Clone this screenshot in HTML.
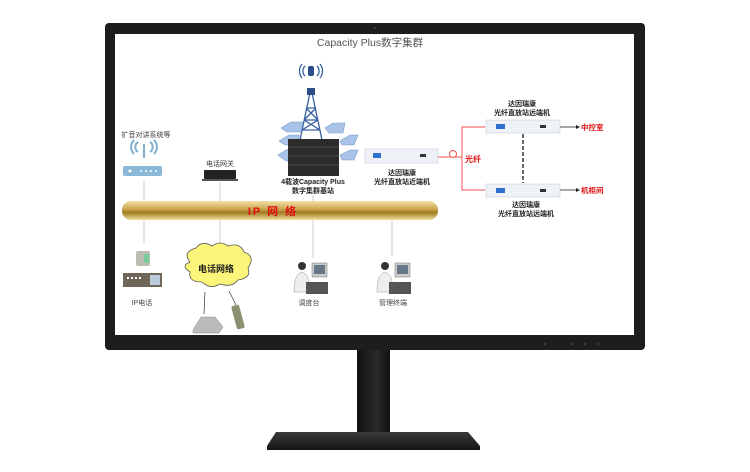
<!DOCTYPE html>
<html><head><meta charset="utf-8"><style>
html,body{margin:0;padding:0;background:#fff;width:750px;height:472px;overflow:hidden}
svg{display:block}
text{font-family:"Liberation Sans","Noto Sans CJK SC",sans-serif}
</style></head><body>
<svg width="750" height="472" viewBox="0 0 750 472" xmlns="http://www.w3.org/2000/svg">
<defs>
<linearGradient id="gold" x1="0" y1="0" x2="0" y2="1">
<stop offset="0" stop-color="#f3e2a8"/><stop offset="0.45" stop-color="#c9a24a"/><stop offset="0.6" stop-color="#a07a20"/><stop offset="1" stop-color="#f2dfa0"/></linearGradient>
<linearGradient id="neck" x1="0" y1="0" x2="1" y2="0"><stop offset="0" stop-color="#111"/><stop offset="0.6" stop-color="#2a2a2a"/><stop offset="1" stop-color="#111"/></linearGradient>
<linearGradient id="base" x1="0" y1="0" x2="0" y2="1"><stop offset="0" stop-color="#3a3a3a"/><stop offset="1" stop-color="#151515"/></linearGradient>
</defs>
<!-- stand -->
<rect x="357" y="349" width="33" height="86" fill="url(#neck)"/>
<path d="M276 432 L468 432 L480 446 L480 450 L267 450 L267 446 Z" fill="url(#base)"/>
<!-- monitor -->
<rect x="105" y="23" width="540" height="327" rx="4" fill="#1d1d1d"/>
<rect x="115" y="34" width="519" height="301" fill="#fff"/>
<circle cx="375" cy="28" r="1" fill="#444"/>
<g fill="#666"><circle cx="545" cy="344" r="0.8"/><circle cx="572" cy="344" r="0.8"/><circle cx="585" cy="344" r="0.8"/><circle cx="598" cy="344" r="0.8"/></g>
<text x="370" y="46" font-size="10.5" fill="#555" text-anchor="middle">Capacity Plus数字集群</text>

<!-- grey connector lines -->
<g stroke="#ccc" stroke-width="1">
<line x1="144" y1="180" x2="144" y2="243"/>
<line x1="220" y1="182" x2="220" y2="247"/>
<line x1="313" y1="195" x2="313" y2="258"/>
<line x1="392" y1="220" x2="392" y2="256"/>
</g>
<!-- IP bar -->
<rect x="122" y="201" width="316" height="19" rx="9" fill="url(#gold)"/>
<text x="273" y="215" font-size="11" font-weight="bold" fill="#e01010" text-anchor="middle" letter-spacing="2">IP 网 络</text>

<!-- router -->
<text x="146" y="137" font-size="7" fill="#444" text-anchor="middle">扩音对讲系统等</text>
<g fill="none" stroke="#7fb0d0" stroke-width="2">
<path d="M134 154 a10 10 0 0 1 0 -14"/><path d="M138 152 a6 6 0 0 1 0 -10"/>
<path d="M154 154 a10 10 0 0 0 0 -14"/><path d="M150 152 a6 6 0 0 0 0 -10"/>
</g>
<rect x="143" y="144" width="2" height="14" fill="#7fb0d0"/>
<rect x="123" y="166" width="39" height="10" rx="2" fill="#8ab8d6"/>
<g fill="#fff"><circle cx="130" cy="171" r="1.5"/><circle cx="141" cy="171" r="1"/><circle cx="146" cy="171" r="1"/><circle cx="151" cy="171" r="1"/><circle cx="156" cy="171" r="1"/></g>

<!-- gateway -->
<text x="220" y="166" font-size="7" fill="#444" text-anchor="middle">电话网关</text>
<rect x="204" y="170" width="32" height="9" rx="1" fill="#222"/>
<rect x="202" y="179" width="36" height="2" fill="#555"/>

<!-- tower -->
<g fill="none" stroke="#3860a0" stroke-width="1.3">
<path d="M305 76 a7 7 0 0 1 0 -10"/><path d="M302 78 a11 11 0 0 1 0 -14"/>
<path d="M317 76 a7 7 0 0 0 0 -10"/><path d="M320 78 a11 11 0 0 0 0 -14"/>
<path d="M311 88 L300 140 M311 88 L322 140 M304 120 L318 120 M306 108 L316 108 M302 130 L320 130 M304 120 L316 108 M318 120 L306 108 M302 130 L318 120 M320 130 L304 120"/>
</g>
<rect x="308" y="66" width="6" height="10" rx="2" fill="#2a4e8a"/>
<rect x="307" y="88" width="8" height="7" fill="#2a4e8a"/>
<!-- hexes -->
<g fill="#a9c3e8" stroke="#7a9ccc" stroke-width="0.6">
<path d="M281 128 l10 -6 h12 l-2 10 h-14 z"/><path d="M325 128 l8 -5 h12 l-2 10 h-14 z"/>
<path d="M279 141 l10 -6 h10 v10 h-14 z"/><path d="M340 141 l10 -6 h8 l-4 10 h-12 z"/>
<path d="M278 155 l10 -6 h10 v12 h-12 z"/><path d="M340 155 l10 -5 h8 l-4 10 h-12 z"/>
</g>
<!-- server -->
<rect x="288" y="139" width="51" height="37" fill="#2b2b2b"/>
<g stroke="#555" stroke-width="0.8"><line x1="288" y1="147" x2="339" y2="147"/><line x1="288" y1="156" x2="339" y2="156"/><line x1="288" y1="165" x2="339" y2="165"/></g>
<text x="313" y="184" font-size="7" font-weight="bold" fill="#222" text-anchor="middle">4载波Capacity Plus</text>
<text x="313" y="193" font-size="7" font-weight="bold" fill="#222" text-anchor="middle">数字集群基站</text>

<!-- near-end repeater -->
<rect x="365" y="149" width="73" height="14" fill="#eef1f6" stroke="#ccd" stroke-width="0.6"/>
<rect x="373" y="153" width="8" height="5" fill="#2f6fd0"/>
<rect x="420" y="154" width="6" height="3" fill="#333"/>
<text x="402" y="175" font-size="7" font-weight="bold" fill="#222" text-anchor="middle">达因瑞康</text>
<text x="402" y="184" font-size="7" font-weight="bold" fill="#222" text-anchor="middle">光纤直放站近端机</text>

<!-- fiber -->
<g stroke="#f05050" stroke-width="1" fill="none">
<line x1="438" y1="157" x2="462" y2="157"/><circle cx="453" cy="154" r="3.5" fill="#fff"/>
<path d="M485 127 H462 V190 H485"/>
</g>
<text x="465" y="162" font-size="8" font-weight="bold" fill="#e01010">光纤</text>

<!-- far-end repeaters -->
<text x="522" y="106" font-size="7" font-weight="bold" fill="#222" text-anchor="middle">达因瑞康</text>
<text x="522" y="115" font-size="7" font-weight="bold" fill="#222" text-anchor="middle">光纤直放站远端机</text>
<rect x="486" y="120" width="74" height="13" fill="#eef1f6" stroke="#ccd" stroke-width="0.6"/>
<rect x="496" y="124" width="9" height="5" fill="#2f6fd0"/>
<rect x="540" y="125" width="6" height="3" fill="#333"/>
<rect x="486" y="184" width="74" height="13" fill="#eef1f6" stroke="#ccd" stroke-width="0.6"/>
<rect x="496" y="188" width="9" height="5" fill="#2f6fd0"/>
<rect x="540" y="189" width="6" height="3" fill="#333"/>
<line x1="523" y1="134" x2="523" y2="183" stroke="#334" stroke-width="1.5" stroke-dasharray="4,2"/>
<text x="526" y="207" font-size="7" font-weight="bold" fill="#222" text-anchor="middle">达因瑞康</text>
<text x="526" y="216" font-size="7" font-weight="bold" fill="#222" text-anchor="middle">光纤直放站远端机</text>
<g stroke="#222" stroke-width="0.8"><line x1="560" y1="127" x2="576" y2="127"/><line x1="560" y1="190" x2="576" y2="190"/></g>
<path d="M576 125 l4 2 l-4 2z M576 188 l4 2 l-4 2z" fill="#222"/>
<text x="581" y="130" font-size="7.5" font-weight="bold" fill="#e01010">中控室</text>
<text x="581" y="193" font-size="7.5" font-weight="bold" fill="#e01010">机柜间</text>

<!-- IP phone -->
<rect x="136" y="251" width="14" height="15" rx="2" fill="#bcbcb0"/>
<rect x="144" y="254" width="5" height="9" fill="#7c9"/>
<rect x="123" y="273" width="39" height="14" fill="#6e6658"/>
<rect x="150" y="275" width="10" height="10" fill="#bcd"/>
<g fill="#fff"><rect x="127" y="277" width="2" height="2"/><rect x="131" y="277" width="2" height="2"/><rect x="135" y="277" width="2" height="2"/><rect x="139" y="277" width="2" height="2"/></g>
<text x="142" y="305" font-size="7" fill="#444" text-anchor="middle">IP电话</text>

<!-- cloud -->
<path d="M190 262 q-8 -10 6 -14 q6 -8 16 -2 q8 -6 16 0 q12 -4 16 6 q12 4 4 16 q4 10 -10 12 q-6 8 -18 4 q-10 6 -18 -2 q-14 0 -12 -10 q-10 -6 0 -10z" fill="#fbf67a" stroke="#555" stroke-width="0.8"/>
<text x="216" y="272" font-size="9" font-weight="bold" fill="#222" text-anchor="middle">电话网络</text>
<g stroke="#333" stroke-width="0.7"><line x1="205" y1="292" x2="204" y2="314"/><line x1="229" y1="291" x2="236" y2="305"/></g>
<path d="M193 330 l8 -13 h14 l8 10 l-4 6 h-26z" fill="#bbb" stroke="#888" stroke-width="0.5"/>
<rect x="234" y="305" width="8" height="24" rx="2" fill="#8a9070" transform="rotate(-15 238 317)"/>

<!-- operators -->
<g>
<circle cx="302" cy="266" r="4" fill="#333"/>
<path d="M294 292 q0 -18 8 -20 q8 2 8 20z" fill="#eee" stroke="#999" stroke-width="0.5"/>
<rect x="312" y="263" width="15" height="14" fill="#ccc" stroke="#777" stroke-width="0.5"/>
<rect x="314" y="265" width="11" height="9" fill="#678"/>
<rect x="306" y="282" width="22" height="12" fill="#555"/>
</g>
<text x="309" y="305" font-size="7" fill="#444" text-anchor="middle">调度台</text>
<g>
<circle cx="385" cy="266" r="4" fill="#333"/>
<path d="M377 292 q0 -18 8 -20 q8 2 8 20z" fill="#eee" stroke="#999" stroke-width="0.5"/>
<rect x="395" y="263" width="15" height="14" fill="#ccc" stroke="#777" stroke-width="0.5"/>
<rect x="397" y="265" width="11" height="9" fill="#678"/>
<rect x="389" y="282" width="22" height="12" fill="#555"/>
</g>
<text x="393" y="305" font-size="7" fill="#444" text-anchor="middle">管理终端</text>
</svg>
</body></html>
